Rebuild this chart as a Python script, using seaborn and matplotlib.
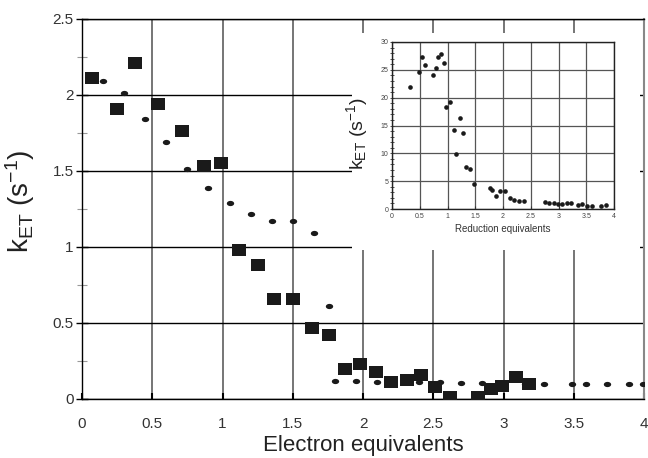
import numpy as np
import seaborn as sns
import matplotlib
matplotlib.use("Agg")
import matplotlib.pyplot as plt
from matplotlib.path import Path
from matplotlib.patches import Rectangle

sns.set_theme(style="white")
plt.rcParams['font.family'] = ['Liberation Sans', 'DejaVu Sans']
plt.rcParams['mathtext.default'] = 'regular'

# main plot: squares and dots
sq_x = [0.07, 0.25, 0.38, 0.54, 0.71, 0.87, 0.99, 1.12, 1.25, 1.37, 1.50, 1.64, 1.76,
        1.87, 1.98, 2.09, 2.20, 2.31, 2.41, 2.51, 2.62, 2.82, 2.91, 2.99, 3.09, 3.18]
sq_y = [2.11, 1.91, 2.21, 1.94, 1.76, 1.53, 1.55, 0.98, 0.88, 0.66, 0.66, 0.47, 0.42,
        0.20, 0.23, 0.18, 0.11, 0.125, 0.16, 0.08, 0.015, 0.015, 0.065, 0.085, 0.145, 0.10]

dot_x = [0.15, 0.30, 0.45, 0.60, 0.75, 0.90, 1.05, 1.20, 1.35, 1.50, 1.65, 1.76, 1.80,
         1.95, 2.10, 2.40, 2.55, 2.70, 2.85, 3.00, 3.15, 3.29, 3.49, 3.59, 3.74, 3.89, 3.99]
dot_y = [2.09, 2.01, 1.84, 1.69, 1.51, 1.39, 1.29, 1.22, 1.17, 1.17, 1.09, 0.61, 0.12,
         0.12, 0.115, 0.115, 0.11, 0.105, 0.105, 0.10, 0.10, 0.10, 0.10, 0.10, 0.10, 0.10, 0.10]

# inset data
in_x = [0.33, 0.48, 0.54, 0.60, 0.74, 0.79, 0.83, 0.88, 0.93, 0.97, 1.05, 1.11, 1.16, 1.22,
        1.28, 1.34, 1.40, 1.48, 1.76, 1.81, 1.87, 1.95, 2.03, 2.12, 2.20, 2.29, 2.38, 2.75,
        2.83, 2.91, 2.99, 3.07, 3.15, 3.23, 3.35, 3.43, 3.51, 3.60, 3.77, 3.85]
in_y = [21.9, 24.7, 27.3, 25.8, 24.1, 25.3, 27.3, 27.8, 26.2, 18.3, 19.2, 14.2, 9.8, 16.3,
        13.6, 7.6, 7.1, 4.5, 3.8, 3.4, 2.3, 3.3, 3.3, 2.0, 1.7, 1.4, 1.4, 1.2,
        1.1, 1.1, 0.9, 0.9, 1.0, 1.0, 0.8, 0.85, 0.6, 0.6, 0.55, 0.7]

main_ticks_x = [0, 0.5, 1, 1.5, 2, 2.5, 3, 3.5, 4]
main_ticks_y = [0, 0.5, 1, 1.5, 2, 2.5]
inset_ticks_y = [0, 5, 10, 15, 20, 25, 30]

# marker shapes (wide rectangle, flat ellipse)
rect_marker = Path([(-1.25, -1), (1.25, -1), (1.25, 1), (-1.25, 1), (-1.25, -1)])
t = np.linspace(0, 2 * np.pi, 30)
ell_marker = Path(np.column_stack([1.4 * np.cos(t), np.sin(t)]))

fig = plt.figure(figsize=(6.48, 4.58), dpi=100)
ax = fig.add_axes([82 / 648, 59 / 458, 562 / 648, 380 / 458])
ax.set_zorder(0)

sns.scatterplot(x=sq_x, y=sq_y, marker=rect_marker, s=100, color='#1a1a1a',
                linewidth=0, ax=ax, zorder=3)
sns.scatterplot(x=dot_x, y=dot_y, marker=ell_marker, s=28, color='#1a1a1a',
                linewidth=0, ax=ax, zorder=3)

ax.set_xlim(0, 4)
ax.set_ylim(0, 2.5)
ax.set_xticks(main_ticks_x)
ax.set_xticklabels(['0', '0.5', '1', '1.5', '2', '2.5', '3', '3.5', '4'])
ax.set_yticks(main_ticks_y)
ax.set_yticklabels(['0', '0.5', '1', '1.5', '2', '2.5'])
ax.set_yticks([0.25, 0.75, 1.25, 1.75, 2.25], minor=True)
ax.set_axisbelow(True)
ax.xaxis.grid(True, color='#6a6a6a', linewidth=1.3)
ax.yaxis.grid(True, color='black', linewidth=1.0)
ax.tick_params(axis='both', labelsize=11, labelcolor='#333333')
ax.tick_params(axis='y', which='major', direction='inout', length=8, width=1,
               color='black', left=True, pad=2)
ax.tick_params(axis='y', which='minor', direction='inout', length=7, width=0.8,
               color='#999999', left=True)
ax.tick_params(axis='x', which='major', direction='in', length=4, width=1.5,
               color='black', bottom=True, pad=13)
for side in ['left', 'bottom', 'top']:
    ax.spines[side].set_color('black')
    ax.spines[side].set_linewidth(1.0)
ax.spines['right'].set_color('#888888')
ax.spines['right'].set_linewidth(1.5)

ax.set_xlabel('Electron equivalents', fontsize=16, color='#222222')
ax.xaxis.set_label_coords(0.5, -0.095)
ax.set_ylabel('k$_{ET}$ (s$^{-1}$)', fontsize=20, color='#222222')
ax.yaxis.set_label_coords(-0.08, 0.52)

# white box behind the inset
box = Rectangle((352 / 648, (458 - 250) / 458), (640 - 352) / 648, (250 - 33) / 458,
                transform=fig.transFigure, facecolor='white', edgecolor='none', zorder=1)
fig.add_artist(box)

axin = fig.add_axes([392 / 648, (458 - 209) / 458, 222 / 648, 167 / 458])
axin.set_zorder(2)
sns.scatterplot(x=in_x, y=in_y, marker='o', s=11, color='#1a1a1a', linewidth=0,
                ax=axin, zorder=3)
axin.set_xlim(0, 4)
axin.set_ylim(0, 30)
axin.set_xticks(main_ticks_x)
axin.set_xticklabels(['0', '0.5', '1', '1.5', '2', '2.5', '3', '3.5', '4'])
axin.set_yticks(inset_ticks_y)
axin.set_yticks(range(0, 31), minor=True)
axin.set_axisbelow(True)
axin.grid(True, color='#555555', linewidth=0.9)
axin.tick_params(axis='both', labelsize=5, labelcolor='#444444')
axin.tick_params(axis='y', which='both', direction='inout', left=True, length=3,
                 width=0.6, color='#333333', pad=1)
axin.tick_params(axis='x', which='major', direction='in', bottom=True, length=2,
                 width=0.8, color='#333333', pad=3)
for side in axin.spines.values():
    side.set_color('#222222')
    side.set_linewidth(1.0)
axin.set_xlabel('Reduction equivalents', fontsize=7, color='#333333')
axin.xaxis.set_label_coords(0.5, -0.09)
axin.set_ylabel('k$_{ET}$ (s$^{-1}$)', fontsize=14, color='#222222')
axin.yaxis.set_label_coords(-0.10, 0.45)

fig.savefig('out.png', dpi=100)
